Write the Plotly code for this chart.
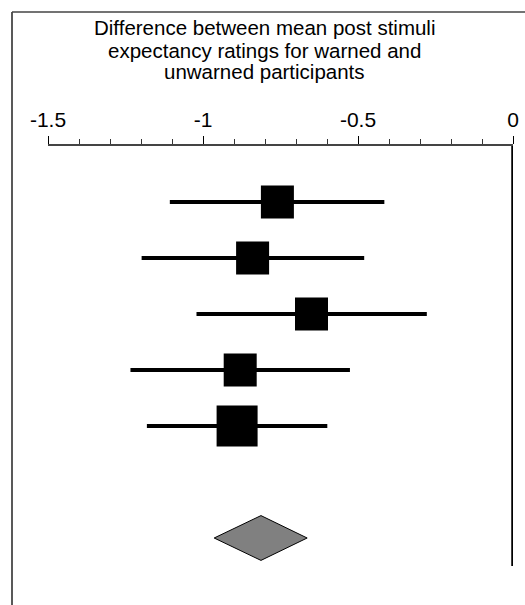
import plotly.graph_objects as go

# Data
rows = [1, 2, 3, 4, 5]
estimates = [-0.76, -0.84, -0.65, -0.88, -0.89]
ci_low = [-1.107, -1.198, -1.021, -1.234, -1.181]
ci_high = [-0.415, -0.480, -0.278, -0.526, -0.599]
marker_sizes = [33, 33, 33, 33, 41]

pooled_row = 7
pooled_est = -0.813
pooled_low = -0.964
pooled_high = -0.664

tick_vals = [-1.5, -1, -0.5, 0]
tick_text = ["-1.5", "-1", "-0.5", "0"]

title_lines = ["Difference between mean post stimuli",
               "expectancy ratings for warned and",
               "unwarned participants"]

FONT = "Arial, Liberation Sans, sans-serif"

fig = go.Figure()

# Study estimates with CIs
fig.add_trace(go.Scatter(
    x=estimates, y=rows, mode="markers",
    marker=dict(symbol="square", size=marker_sizes, color="black",
                opacity=1, line=dict(width=0)),
    error_x=dict(type="data", symmetric=False,
                 array=[h - e for h, e in zip(ci_high, estimates)],
                 arrayminus=[e - l for e, l in zip(estimates, ci_low)],
                 color="black", thickness=4, width=0),
    showlegend=False, hoverinfo="skip",
))

# Pooled diamond
dh = 0.4
fig.add_trace(go.Scatter(
    x=[pooled_low, pooled_est, pooled_high, pooled_est, pooled_low],
    y=[pooled_row, pooled_row - dh, pooled_row, pooled_row + dh, pooled_row],
    mode="lines", fill="toself", fillcolor="#808080",
    line=dict(color="black", width=1),
    showlegend=False, hoverinfo="skip",
))

# Line of no effect
fig.add_shape(type="line", xref="x", yref="y", x0=0, x1=0, y0=0, y1=7.5,
              line=dict(color="black", width=3.5))

# Frame (left and top): plot area left=48px, width=465px, top=146px, height=448px
fx = (12 - 48) / 465
fy = 1 + (146 - 12) / 448
fig.add_shape(type="line", xref="paper", yref="paper",
              x0=fx, x1=fx, y0=-0.1, y1=fy,
              line=dict(color="#222", width=1.5))
fig.add_shape(type="line", xref="paper", yref="paper",
              x0=fx, x1=1.1, y0=fy, y1=fy,
              line=dict(color="#444", width=1.5))

# Title lines
for line, ypx in zip(title_lines, [28, 50, 71]):
    fig.add_annotation(text=line, xref="paper", yref="paper",
                       x=(264 - 48) / 465, y=1 + (146 - ypx) / 448,
                       yanchor="middle", xanchor="center",
                       showarrow=False, align="center",
                       font=dict(family=FONT, size=20.5, color="black"))

fig.update_layout(
    width=525, height=605,
    margin=dict(l=48, r=12, t=146, b=11, autoexpand=False),
    paper_bgcolor="white", plot_bgcolor="white",
    xaxis=dict(range=[-1.5, 0], side="top", tickvals=tick_vals, ticktext=tick_text,
               automargin=False,
               ticks="outside", ticklen=8, tickwidth=1, tickcolor="black",
               showline=True, linecolor="#444", linewidth=1.5,
               showgrid=False, zeroline=False,
               minor=dict(dtick=0.1, tick0=0, ticks="outside", ticklen=5,
                          tickwidth=1, tickcolor="#333", showgrid=False),
               tickfont=dict(family=FONT, size=21, color="black"),
               ticklabelstandoff=1),
    yaxis=dict(range=[8, 0], visible=False, showgrid=False, zeroline=False),
)

fig.write_html("out.html")
